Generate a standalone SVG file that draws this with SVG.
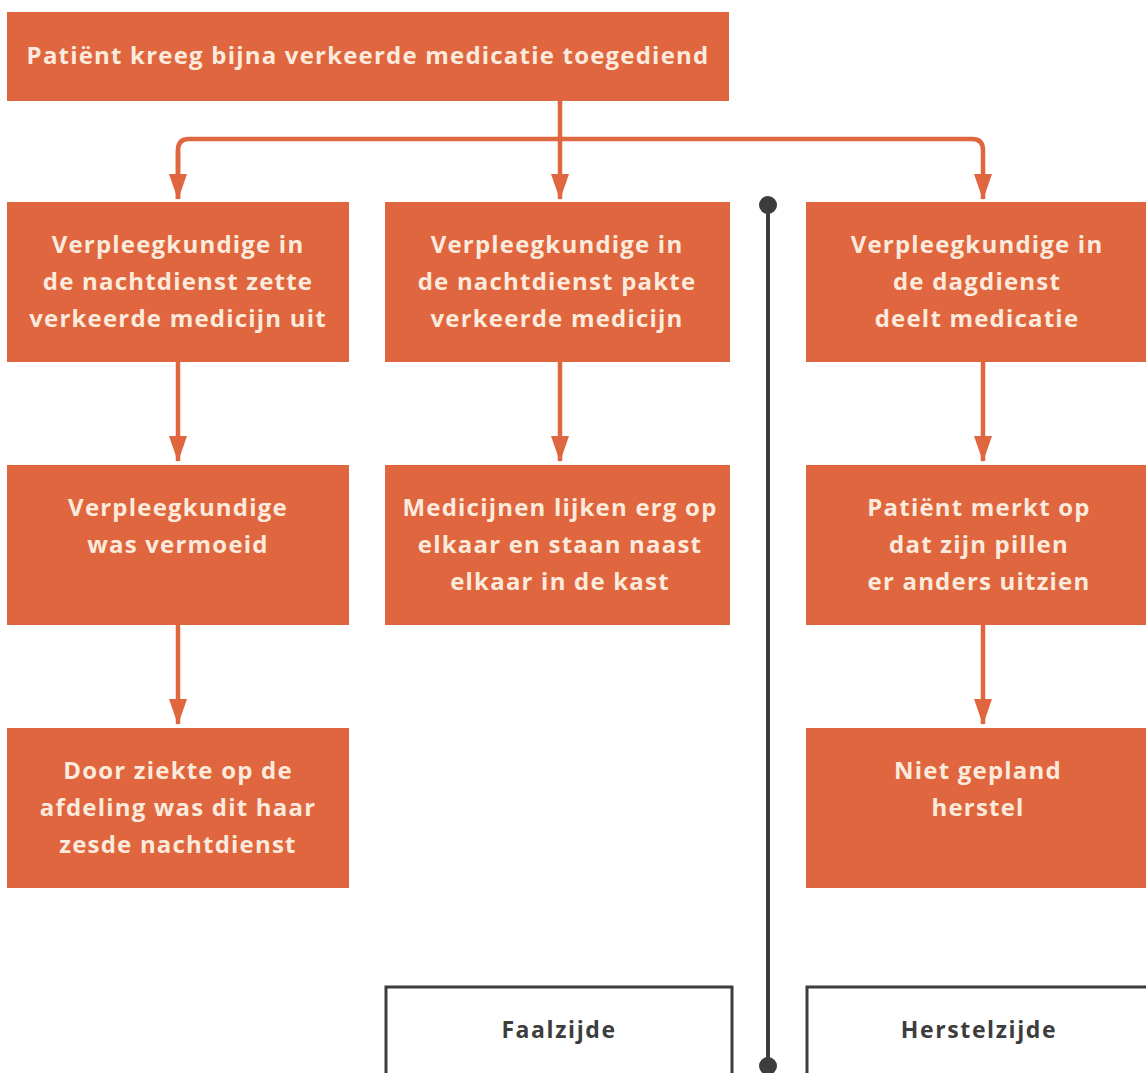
<svg xmlns="http://www.w3.org/2000/svg" width="1146" height="1073" viewBox="0 0 1146 1073">
<style>
.box{fill:#DF663F}
.t{font-family:"Open Sans","Noto Sans",sans-serif;font-weight:bold;font-size:24px;fill:#FCEBDD;text-anchor:middle;letter-spacing:1.2px}
.c{fill:none;stroke:#DF663F;stroke-width:4.5}
.d{fill:none;stroke:#3d3d3d;stroke-width:4}
.ob{fill:#fff;stroke:#3d3d3d;stroke-width:3}
.lt{font-family:"Open Sans","Noto Sans",sans-serif;font-weight:bold;font-size:23px;fill:#3d3d3d;text-anchor:middle;letter-spacing:1.6px}
</style>
<defs>
<marker id="ah" viewBox="0 0 26 18" refX="25" refY="9" markerWidth="26" markerHeight="18" markerUnits="userSpaceOnUse" orient="auto">
<path d="M0,0 L26,9 L0,18 z" fill="#DF663F"/>
</marker>
</defs>
<rect width="1146" height="1073" fill="#fff"/>
<g id="connectors">
<path class="c" d="M560,101 V199" marker-end="url(#ah)"/>
<path class="c" d="M178,199 V150 Q178,139 189,139 H972 Q983,139 983,150 V199" marker-end="url(#ah)"/>
<path class="c" d="M178,150 V199" marker-end="url(#ah)"/>
<path class="c" d="M178,362 V461" marker-end="url(#ah)"/>
<path class="c" d="M560,362 V461" marker-end="url(#ah)"/>
<path class="c" d="M983,362 V461" marker-end="url(#ah)"/>
<path class="c" d="M178,625 V724" marker-end="url(#ah)"/>
<path class="c" d="M983,625 V724" marker-end="url(#ah)"/>
<g id="divider">
<path class="d" d="M768,205 V1066"/>
<circle cx="768" cy="205" r="9" fill="#3d3d3d"/>
<circle cx="768" cy="1066" r="9" fill="#3d3d3d"/>
</g>
</g>
<g id="top">
<rect class="box" x="7" y="12" width="722" height="89"/>
<text class="t" x="368" y="64">Patiënt kreeg bijna verkeerde medicatie toegediend</text>
</g>
<g id="n1">
<rect class="box" x="7" y="202" width="342" height="160"/>
<text class="t" x="178" y="253">Verpleegkundige in</text>
<text class="t" x="178" y="290">de nachtdienst zette</text>
<text class="t" x="178" y="327">verkeerde medicijn uit</text>
</g>
<g id="n2">
<rect class="box" x="385" y="202" width="345" height="160"/>
<text class="t" x="557" y="253">Verpleegkundige in</text>
<text class="t" x="557" y="290">de nachtdienst pakte</text>
<text class="t" x="557" y="327">verkeerde medicijn</text>
</g>
<g id="n3">
<rect class="box" x="806" y="202" width="350" height="160"/>
<text class="t" x="977" y="253">Verpleegkundige in</text>
<text class="t" x="977" y="290">de dagdienst</text>
<text class="t" x="977" y="327">deelt medicatie</text>
</g>
<g id="n4">
<rect class="box" x="7" y="465" width="342" height="160"/>
<text class="t" x="178" y="516">Verpleegkundige</text>
<text class="t" x="178" y="553">was vermoeid</text>
</g>
<g id="n5">
<rect class="box" x="385" y="465" width="345" height="160"/>
<text class="t" x="560" y="516">Medicijnen lijken erg op</text>
<text class="t" x="560" y="553">elkaar en staan naast</text>
<text class="t" x="560" y="590">elkaar in de kast</text>
</g>
<g id="n6">
<rect class="box" x="806" y="465" width="350" height="160"/>
<text class="t" x="979" y="516">Patiënt merkt op</text>
<text class="t" x="979" y="553">dat zijn pillen</text>
<text class="t" x="979" y="590">er anders uitzien</text>
</g>
<g id="n7">
<rect class="box" x="7" y="728" width="342" height="160"/>
<text class="t" x="178" y="779">Door ziekte op de</text>
<text class="t" x="178" y="816">afdeling was dit haar</text>
<text class="t" x="178" y="853">zesde nachtdienst</text>
</g>
<g id="n8">
<rect class="box" x="806" y="728" width="350" height="160"/>
<text class="t" x="978" y="779">Niet gepland</text>
<text class="t" x="978" y="816">herstel</text>
</g>
<g id="faal">
<rect class="ob" x="386" y="987" width="346" height="110"/>
<text class="lt" x="559" y="1038">Faalzijde</text>
</g>
<g id="herstel">
<rect class="ob" x="807" y="987" width="360" height="110"/>
<text class="lt" x="979" y="1038">Herstelzijde</text>
</g>
</svg>
